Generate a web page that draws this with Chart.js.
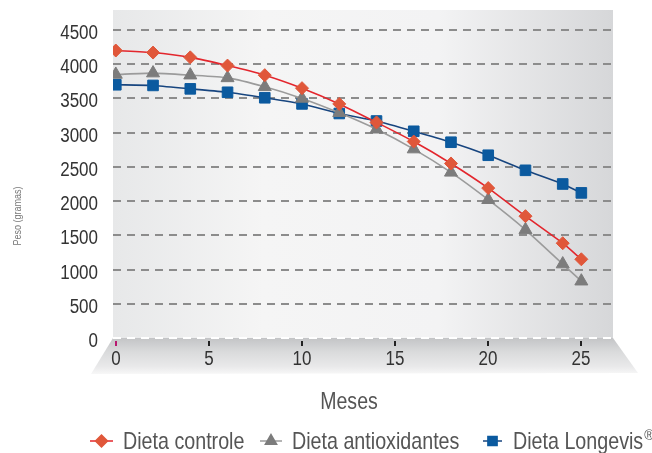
<!DOCTYPE html>
<html>
<head>
<meta charset="utf-8">
<script src="https://cdn.jsdelivr.net/npm/chart.js@4"></script>
<style>
  html, body { margin: 0; padding: 0; background: #ffffff; }
  #wrap { width: 652px; height: 453px; position: relative; }
</style>
</head>
<body>
<div id="wrap"><canvas id="c"></canvas></div>
<script>
// ---- data ----
const months = [0, 2, 4, 6, 8, 10, 12, 14, 16, 18, 20, 22, 24, 25];
const controle = [4200, 4170, 4100, 3980, 3840, 3650, 3420, 3150, 2870, 2550, 2190, 1780, 1385, 1150];
const antioxidantes = [3850, 3870, 3840, 3800, 3670, 3500, 3290, 3050, 2760, 2420, 2020, 1580, 1080, 830];
const longevis = [3700, 3690, 3640, 3590, 3510, 3420, 3280, 3170, 3020, 2860, 2670, 2450, 2250, 2120];
const seriesNames = ['Dieta controle', 'Dieta antioxidantes', 'Dieta Longevis'];
const xTicks = [0, 5, 10, 15, 20, 25];
const yTicks = [0, 500, 1000, 1500, 2000, 2500, 3000, 3500, 4000, 4500];
const xTitle = 'Meses';
const yTitle = 'Peso (gramas)';

const FONT = "'Liberation Sans', Arial, sans-serif";

const toPts = arr => arr.map((v, i) => ({ x: months[i], y: v }));

const COLORS = {
  red: { line: '#e3262d', fill: '#e0573a' },
  gray: { line: '#9b9b9b', fill: '#7c7c7c' },
  blue: { line: '#17457f', fill: '#0b5a9f' }
};

// condensed text: horizontally squeezed real text
function narrowText(ctx, text, x, y, size, color, align, baseline, sx) {
  ctx.save();
  ctx.font = size + 'px ' + FONT;
  ctx.fillStyle = color;
  ctx.textBaseline = baseline;
  ctx.textAlign = 'left';
  const w = ctx.measureText(text).width * sx;
  let x0 = x;
  if (align === 'center') x0 = x - w / 2;
  else if (align === 'right') x0 = x - w;
  ctx.translate(x0, y);
  ctx.scale(sx, 1);
  ctx.fillText(text, 0, 0);
  ctx.restore();
  return w;
}

const decor = {
  id: 'decor',
  beforeDraw(chart) {
    const { ctx, chartArea: a } = chart;
    ctx.save();
    const g = ctx.createLinearGradient(a.left, 0, a.right, 0);
    g.addColorStop(0, '#e7e8e9');
    g.addColorStop(0.3, '#f5f5f5');
    g.addColorStop(0.65, '#f3f3f4');
    g.addColorStop(1, '#d6d7d9');
    ctx.fillStyle = g;
    ctx.fillRect(a.left, a.top, a.right - a.left, a.bottom - a.top);
    const fg = ctx.createLinearGradient(0, a.bottom, 0, a.bottom + 38);
    fg.addColorStop(0, '#c3c4c6');
    fg.addColorStop(0.35, '#d9dadb');
    fg.addColorStop(0.75, '#e9e9ea');
    fg.addColorStop(1, '#fbfbfb');
    ctx.fillStyle = fg;
    ctx.beginPath();
    ctx.moveTo(a.left, a.bottom);
    ctx.lineTo(a.right, a.bottom);
    ctx.lineTo(a.right + 25, a.bottom + 35);
    ctx.lineTo(a.left - 22, a.bottom + 36);
    ctx.closePath();
    ctx.fill();
    ctx.restore();
  },
  afterDraw(chart) {
    const { ctx, chartArea: a, scales } = chart;
    ctx.save();
    // x tick marks and labels
    xTicks.forEach(v => {
      const x = Math.round(scales.x.getPixelForValue(v));
      ctx.strokeStyle = v === 0 ? '#b8186f' : '#222222';
      ctx.lineWidth = 2;
      ctx.beginPath();
      ctx.moveTo(x, a.bottom + 3);
      ctx.lineTo(x, a.bottom + 8);
      ctx.stroke();
      narrowText(ctx, String(v), x, a.bottom + 27, 20, '#333333', 'center', 'alphabetic', 0.85);
    });
    // y tick labels
    yTicks.forEach(v => {
      const y = scales.y.getPixelForValue(v);
      narrowText(ctx, String(v), 98, y + 9, 20, '#333333', 'right', 'alphabetic', 0.85);
    });
    // y title
    ctx.save();
    ctx.translate(17, 216);
    ctx.rotate(-Math.PI / 2);
    narrowText(ctx, yTitle, 0, 4, 11, '#777777', 'center', 'alphabetic', 0.82);
    ctx.restore();
    // x title
    narrowText(ctx, xTitle, 349, 409, 23, '#555555', 'center', 'alphabetic', 0.85);
    // legend
    const items = [
      { x0: 90, x1: 113, tx: 123, c: COLORS.red, style: 'rectRot', r: 6, name: seriesNames[0] },
      { x0: 260, x1: 282, tx: 292, c: COLORS.gray, style: 'triangle', r: 6.5, name: seriesNames[1] },
      { x0: 483, x1: 502, tx: 513, c: COLORS.blue, style: 'rect', r: 6.5, name: seriesNames[2], sup: '®' }
    ];
    const ly = 441;
    items.forEach(it => {
      ctx.strokeStyle = it.c.line;
      ctx.lineWidth = 1.5;
      ctx.beginPath();
      ctx.moveTo(it.x0, ly);
      ctx.lineTo(it.x1, ly);
      ctx.stroke();
      ctx.fillStyle = it.c.fill;
      ctx.strokeStyle = it.c.fill;
      Chart.helpers.drawPoint(ctx, { pointStyle: it.style, radius: it.r, borderWidth: 1, rotation: 0 }, (it.x0 + it.x1) / 2, ly);
      const w = narrowText(ctx, it.name, it.tx, 449, 24, '#555555', 'left', 'alphabetic', 0.82);
      if (it.sup) {
        narrowText(ctx, it.sup, it.tx + w + 1, 440, 15, '#555555', 'left', 'alphabetic', 0.9);
      }
    });
    ctx.restore();
  }
};

const mkSet = (label, data, c, style, r) => ({
  label,
  data: toPts(data),
  borderColor: c.line,
  borderWidth: 1.6,
  backgroundColor: c.fill,
  pointBackgroundColor: c.fill,
  pointBorderColor: c.fill,
  pointBorderWidth: 1,
  pointStyle: style,
  pointRadius: r,
  pointHoverRadius: r,
  tension: 0.2,
  fill: false
});

new Chart(document.getElementById('c'), {
  type: 'line',
  data: {
    datasets: [
      mkSet(seriesNames[0], controle, COLORS.red, 'rectRot', 6.5),
      mkSet(seriesNames[1], antioxidantes, COLORS.gray, 'triangle', 7.5),
      mkSet(seriesNames[2], longevis, COLORS.blue, 'rect', 7.5)
    ]
  },
  options: {
    responsive: true,
    maintainAspectRatio: false,
    animation: false,
    layout: { padding: { left: 0, right: 39, top: 10, bottom: 0 } },
    plugins: { legend: { display: false }, tooltip: { enabled: false } },
    scales: {
      x: {
        type: 'linear',
        min: -0.15,
        max: 26.7,
        afterBuildTicks: s => { s.ticks = xTicks.map(v => ({ value: v })); },
        afterFit: s => { s.height = 115; s.paddingLeft = 0; s.paddingRight = 0; },
        grid: { display: false, drawTicks: false },
        border: { display: false },
        ticks: { display: false }
      },
      y: {
        min: 0,
        max: 4792,
        afterBuildTicks: s => { s.ticks = yTicks.map(v => ({ value: v })); },
        afterFit: s => { s.width = 113; s.paddingTop = 0; s.paddingBottom = 0; },
        grid: {
          drawTicks: false,
          lineWidth: 2,
          color: c => (c.tick && c.tick.value === 0) ? '#ffffff' : '#8c8c8c'
        },
        border: { display: false, dash: [8, 6] },
        ticks: { display: false }
      }
    }
  },
  plugins: [decor]
});
</script>
</body>
</html>
